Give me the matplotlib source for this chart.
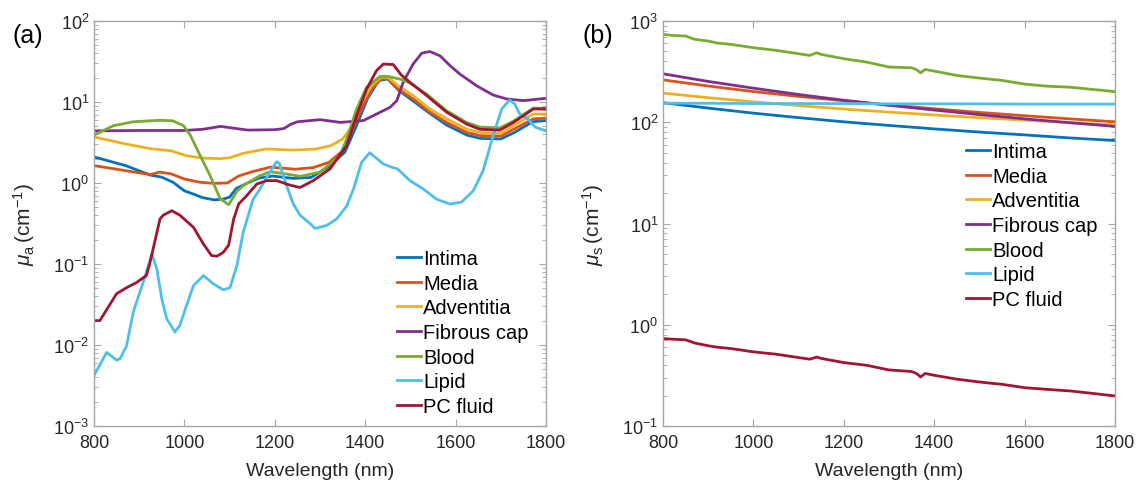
import matplotlib
matplotlib.use("Agg")
import matplotlib.pyplot as plt
from matplotlib.ticker import LogLocator, NullFormatter

plt.rcParams['font.family'] = ['Liberation Sans', 'DejaVu Sans']
plt.rcParams['mathtext.fontset'] = 'custom'
plt.rcParams['mathtext.rm'] = 'Liberation Sans'
plt.rcParams['mathtext.it'] = 'Liberation Sans:italic'
plt.rcParams['mathtext.default'] = 'regular'

# ---------------- Panel (a): absorption coefficient ----------------
intima_wl = [800, 870, 925, 950, 975, 1000, 1020, 1040, 1065, 1085, 1100, 1115, 1140, 1165, 1195, 1240,
             1280, 1320, 1355, 1380, 1405, 1430, 1450, 1475, 1505, 1545, 1580, 1625, 1655, 1700, 1730, 1770, 1800]
intima_mua = [2.1, 1.64, 1.25, 1.18, 1.02, 0.80, 0.73, 0.66, 0.62, 0.63, 0.67, 0.86, 1.0, 1.15, 1.22, 1.14,
              1.17, 1.6, 2.4, 5.0, 11, 18.5, 19.2, 13.8, 10.4, 7.1, 5.2, 3.9, 3.55, 3.5, 4.2, 5.7, 5.9]

media_wl = [800, 870, 925, 945, 970, 1000, 1035, 1065, 1095, 1120, 1150, 1190, 1245, 1285, 1320, 1350, 1366,
            1392, 1414, 1435, 1450, 1473, 1506, 1543, 1580, 1625, 1655, 1700, 1728, 1772, 1800]
media_mua = [1.64, 1.42, 1.27, 1.36, 1.3, 1.12, 1.02, 0.99, 1.0, 1.22, 1.38, 1.57, 1.48, 1.55, 1.8, 2.5, 3.8,
             8.2, 14.4, 19.2, 19.5, 14.4, 10.9, 7.5, 5.6, 4.2, 3.84, 3.8, 4.6, 6.2, 6.3]

advent_wl = [800, 870, 925, 970, 1005, 1040, 1080, 1100, 1130, 1180, 1240, 1290, 1325, 1350, 1370, 1392, 1414,
             1435, 1450, 1473, 1506, 1543, 1580, 1625, 1655, 1700, 1728, 1772, 1800]
advent_mua = [3.7, 3.03, 2.65, 2.5, 2.17, 2.03, 2.0, 2.05, 2.32, 2.63, 2.55, 2.62, 2.9, 3.5, 4.9, 9.9, 15.9,
              20.2, 20.2, 15.9, 12.0, 8.2, 6.2, 4.6, 4.2, 4.1, 5.1, 7.1, 7.1]

fibcap_wl = [800, 900, 1000, 1040, 1080, 1140, 1200, 1220, 1235, 1250, 1300, 1345, 1396, 1425, 1455, 1470,
             1484, 1506, 1525, 1543, 1566, 1588, 1610, 1647, 1683, 1713, 1750, 1800]
fibcap_mua = [4.4, 4.45, 4.45, 4.6, 5.0, 4.5, 4.55, 4.7, 5.3, 5.7, 6.05, 5.6, 5.9, 7.1, 8.6, 10.4,
              17.5, 29.4, 40, 42, 37, 28, 22, 15.8, 12.2, 10.9, 10.4, 11.1]

blood_wl = [800, 843, 887, 946, 975, 998, 1013, 1035, 1057, 1079, 1098, 1116, 1130, 1167, 1190, 1226, 1256,
            1300, 1344, 1359, 1381, 1403, 1433, 1450, 1480, 1500, 1536, 1580, 1624, 1654, 1698, 1728, 1772, 1800]
blood_mua = [3.9, 5.1, 5.7, 5.95, 5.85, 5.1, 3.9, 2.17, 1.23, 0.64, 0.54, 0.79, 0.93, 1.23, 1.38, 1.29, 1.21,
             1.36, 2.17, 3.5, 8.2, 15.2, 20.7, 20.7, 19, 17, 12.5, 7.8, 5.6, 4.9, 4.8, 5.8, 8.4, 8.4]

lipid_wl = [800, 828, 850, 858, 872, 887, 909, 928, 939, 950, 961, 979, 990, 1005, 1020, 1042, 1064, 1086,
            1101, 1116, 1130, 1152, 1167, 1189, 1204, 1210, 1226, 1241, 1256, 1274, 1289, 1315, 1337, 1359,
            1374, 1392, 1410, 1440, 1459, 1471, 1499, 1529, 1558, 1588, 1613, 1639, 1661, 1683, 1702, 1720,
            1731, 1742, 1760, 1776, 1800]
lipid_mua = [0.0042, 0.0081, 0.0065, 0.0068, 0.0098, 0.0256, 0.060, 0.133, 0.087, 0.037, 0.021, 0.0145,
             0.0175, 0.031, 0.054, 0.072, 0.057, 0.048, 0.051, 0.095, 0.245, 0.63, 0.84, 1.36, 1.83, 1.75,
             0.93, 0.55, 0.40, 0.33, 0.275, 0.30, 0.36, 0.52, 0.84, 1.8, 2.37, 1.72, 1.56, 1.5, 1.07, 0.84,
             0.63, 0.55, 0.58, 0.80, 1.42, 3.84, 8.2, 10.6, 9.4, 7.1, 6.2, 4.9, 4.4]

pcf_wl = [800, 813, 850, 872, 894, 916, 924, 946, 953, 972, 990, 1020, 1042, 1060, 1072, 1086, 1098, 1109,
          1120, 1138, 1160, 1182, 1204, 1234, 1256, 1285, 1322, 1359, 1381, 1403, 1425, 1440, 1462, 1480,
          1499, 1536, 1580, 1624, 1654, 1698, 1728, 1772, 1800]
pcf_mua = [0.02, 0.02, 0.043, 0.051, 0.059, 0.072, 0.105, 0.36, 0.40, 0.455, 0.40, 0.284, 0.177, 0.127,
           0.125, 0.139, 0.172, 0.36, 0.55, 0.70, 0.97, 1.07, 1.07, 0.94, 0.88, 1.07, 1.49, 2.9, 6.8, 14.4,
           24.4, 29.4, 29, 21.5, 17.5, 12, 7.5, 5.35, 4.6, 4.5, 5.6, 8.2, 8.2]

# ---------------- Panel (b): scattering coefficient ----------------
smooth_wl = [800, 900, 1000, 1100, 1200, 1300, 1400, 1500, 1600, 1700, 1800]
intima_mus = [156, 138, 123, 111, 101, 93, 86, 80, 75, 70, 66]
media_mus = [262, 228, 201, 180, 163, 148, 136, 125, 116, 108, 101]
advent_mus = [194, 175, 159, 146, 135, 126, 118, 111, 105, 99, 94]
fibcap_mus = [301, 253, 217, 188, 165, 147, 132, 119, 108, 99, 91]
lipid_mus = [154, 154, 153, 153, 153, 152, 152, 152, 151, 151, 151]

blood_s_wl = [800, 820, 850, 870, 900, 920, 950, 1000, 1050, 1100, 1125, 1140, 1150, 1200, 1250, 1300, 1350,
              1360, 1370, 1380, 1400, 1450, 1500, 1550, 1600, 1650, 1700, 1750, 1800]
blood_mus = [738, 721, 711, 659, 634, 606, 588, 545, 513, 475, 457, 486, 468, 424, 393, 351, 345, 332, 308,
             332, 320, 290, 273, 259, 238, 227, 222, 211, 201]
pcf_mus = [0.731, 0.72, 0.71, 0.66, 0.62, 0.60, 0.582, 0.540, 0.512, 0.474, 0.457, 0.48, 0.465, 0.423, 0.398,
           0.358, 0.345, 0.332, 0.305, 0.33, 0.317, 0.290, 0.272, 0.258, 0.239, 0.230, 0.222, 0.210, 0.198]

labels = ['Intima', 'Media', 'Adventitia', 'Fibrous cap', 'Blood', 'Lipid', 'PC fluid']
colors = ['#0072BD', '#D95319', '#EDB120', '#7E2F8E', '#77AC30', '#4DBEEE', '#A2142F']
xticks = [800, 1000, 1200, 1400, 1600, 1800]

fig = plt.figure(figsize=(11.36, 4.85), dpi=100)
ax1 = fig.add_axes([94 / 1136, 58 / 485, 452 / 1136, 405 / 485])
ax2 = fig.add_axes([663 / 1136, 58 / 485, 452 / 1136, 405 / 485])

series_a = [(intima_wl, intima_mua), (media_wl, media_mua), (advent_wl, advent_mua),
            (fibcap_wl, fibcap_mua), (blood_wl, blood_mua), (lipid_wl, lipid_mua), (pcf_wl, pcf_mua)]
series_b = [(smooth_wl, intima_mus), (smooth_wl, media_mus), (smooth_wl, advent_mus),
            (smooth_wl, fibcap_mus), (blood_s_wl, blood_mus), (smooth_wl, lipid_mus), (blood_s_wl, pcf_mus)]

lw = 2.0
for (x, y), c, lab in zip(series_a, colors, labels):
    ax1.plot(x, y, color=c, lw=lw, label=lab, solid_joinstyle='round')
for (x, y), c, lab in zip(series_b, colors, labels):
    ax2.plot(x, y, color=c, lw=lw, label=lab, solid_joinstyle='round')

edge = '#a6a6a6'
txt = '#262626'
for ax, ylim in ((ax1, (1e-3, 1e2)), (ax2, (1e-1, 1e3))):
    ax.set_yscale('log')
    ax.set_xlim(800, 1800)
    ax.set_ylim(*ylim)
    ax.set_xticks(xticks)
    ax.yaxis.set_major_locator(LogLocator(base=10, numticks=20))
    ax.yaxis.set_minor_locator(LogLocator(base=10, subs=range(2, 10), numticks=100))
    ax.yaxis.set_minor_formatter(NullFormatter())
    ax.tick_params(which='both', direction='in', top=True, right=True, colors=edge,
                   labelcolor=txt, labelsize=13)
    ax.tick_params(which='major', length=5, width=0.8)
    ax.tick_params(which='minor', length=3, width=0.6)
    ax.tick_params(axis='x', pad=6)
    for s in ax.spines.values():
        s.set_color(edge)
        s.set_linewidth(1.0)
    ax.set_xlabel('Wavelength (nm)', fontsize=14, color=txt, labelpad=8)

ax1.set_ylabel(r'$\mathit{\mu}_{\mathrm{a}}\,$(cm$^{-1}$)', fontsize=15, color=txt)
ax2.set_ylabel(r'$\mathit{\mu}_{\mathrm{s}}\,$(cm$^{-1}$)', fontsize=15, color=txt)
ax1.yaxis.set_label_coords((37 - 94) / 452, 0.5)
ax2.yaxis.set_label_coords((37 - 94) / 452, 0.5)

leg_kw = dict(frameon=False, fontsize=14.5, handlelength=1.2, handletextpad=0.1, labelspacing=0.28,
              borderaxespad=0.0, borderpad=0.0, loc='upper left')
l1 = ax1.legend(bbox_to_anchor=((397 - 94) / 452, (427 - 250) / 405), **leg_kw)
l2 = ax2.legend(bbox_to_anchor=((966 - 663) / 452, (427 - 143) / 405), **leg_kw)
for l in (l1, l2):
    for t in l.get_texts():
        t.set_color('black')

fig.text(13 / 1136, 1 - 36 / 485, '(a)', fontsize=18, va='center', ha='left')
fig.text(582 / 1136, 1 - 36 / 485, '(b)', fontsize=18, va='center', ha='left')

fig.savefig('out.png', dpi=100)
